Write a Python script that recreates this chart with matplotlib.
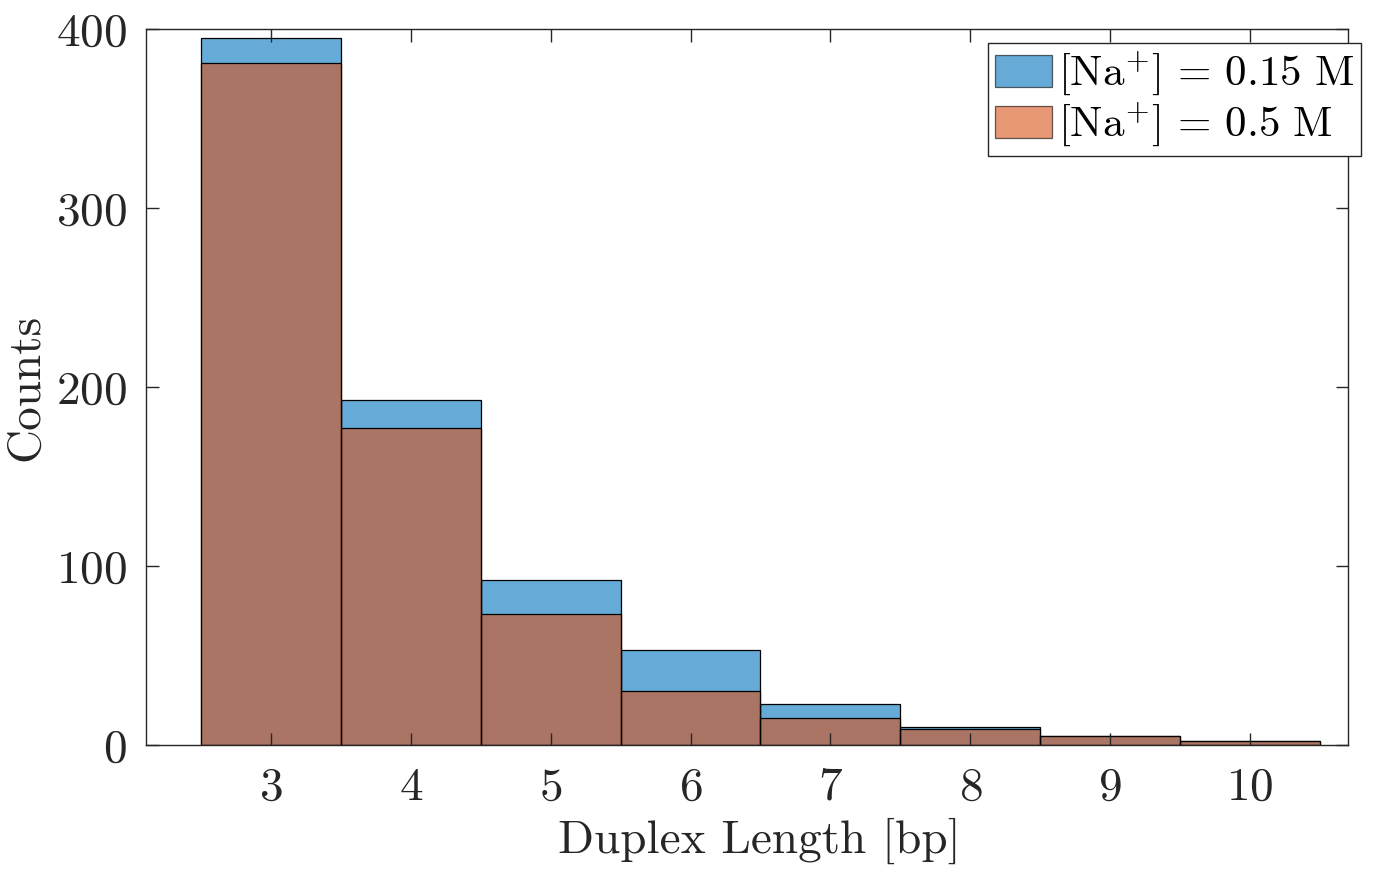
import matplotlib
matplotlib.use("Agg")
import matplotlib.pyplot as plt
import numpy as np
from matplotlib.patches import Patch

plt.rcParams['font.family'] = 'serif'
plt.rcParams['font.serif'] = ['cmr10']
plt.rcParams['mathtext.fontset'] = 'cm'
plt.rcParams['axes.formatter.use_mathtext'] = True

lengths = [3, 4, 5, 6, 7, 8, 9, 10]
counts_015 = [395, 193, 92, 53, 23, 10, 5, 2]
counts_05 = [381, 177, 73, 30, 15, 9, 5, 2]
labels = [r'$[\mathrm{Na}^{+}]\,=\,0.15\ \mathrm{M}$', r'$[\mathrm{Na}^{+}]\,=\,0.5\ \mathrm{M}$']

blue = (0.0, 0.447, 0.741)
orange = (0.85, 0.325, 0.098)

fig = plt.figure(figsize=(13.81, 8.81), dpi=100)
ax = fig.add_axes([146/1381, 1-745/881, (1348-146)/1381, (745-29)/881])

ax.bar(lengths, counts_015, width=1.0, color=blue, alpha=0.6, edgecolor='none', label=labels[0])
ax.bar(lengths, counts_015, width=1.0, facecolor='none', edgecolor='black', linewidth=0.9)
ax.bar(lengths, counts_05, width=1.0, color=orange, alpha=0.6, edgecolor='none', label=labels[1])
ax.bar(lengths, counts_05, width=1.0, facecolor='none', edgecolor='black', linewidth=0.9)

ax.set_xlim(2.107, 10.7)
ax.set_ylim(0, 400)
ax.set_xticks(lengths)
ax.set_yticks([0, 100, 200, 300, 400])

axis_col = (0.15, 0.15, 0.15)
for s in ax.spines.values():
    s.set_color(axis_col)
    s.set_linewidth(1.0)
ax.tick_params(direction='in', length=9, width=1.0, color=axis_col, top=True, right=True,
               labelsize=34, labelcolor=axis_col, pad=14)
ax.tick_params(axis='x', pad=16)

ax.set_xlabel('Duplex Length [bp]', fontsize=34, color=axis_col)
ax.xaxis.set_label_coords(0.51, -0.101)
ax.xaxis.label.set_verticalalignment('top')
ax.set_ylabel('Counts', fontsize=34, color=axis_col, labelpad=6)

handles = [Patch(facecolor=blue, alpha=0.6, edgecolor='black', linewidth=0.9),
           Patch(facecolor=orange, alpha=0.6, edgecolor='black', linewidth=0.9)]
leg = ax.legend(handles, labels, loc='upper right', bbox_to_anchor=(1361/1381, 1-43/881),
                bbox_transform=fig.transFigure, fontsize=31, frameon=True, fancybox=False,
                edgecolor=axis_col, framealpha=1, borderpad=0.16, labelspacing=0.06,
                handlelength=1.33, handleheight=0.77, handletextpad=0.14, borderaxespad=0)
leg.get_frame().set_linewidth(1.0)

fig.savefig('out.png', dpi=100)
